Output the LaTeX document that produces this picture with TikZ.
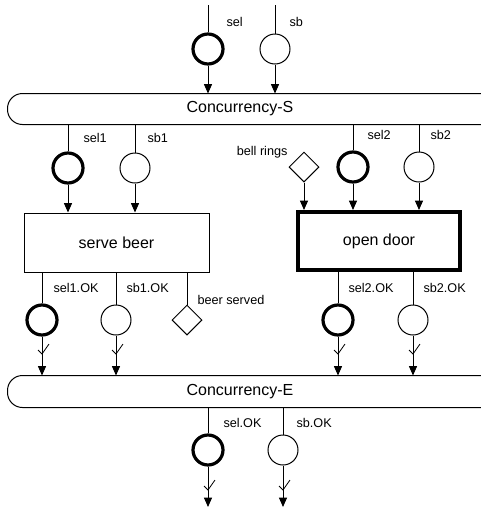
\documentclass[tikz,border=0pt]{standalone}
\usepackage{fontspec}
\setmainfont{Liberation Sans}
\usetikzlibrary{arrows.meta,calc,shapes.geometric}
\tikzset{
	place/.style={draw, circle, minimum size=22.5pt, inner sep=0pt, line width=0.75pt},
	bold place/.style={place, line width=2.4pt},
	event/.style={draw, diamond, minimum size=22.5pt, inner sep=0pt, line width=0.75pt},
	task/.style={draw, rectangle, minimum height=44.25pt, line width=0.75pt, font=\fontsize{12}{14}\selectfont},
	bar/.style={minimum height=22.5pt, minimum width=348pt, inner sep=0pt, font=\fontsize{12}{14}\selectfont},
	lbl/.style={anchor=west, inner sep=0pt, font=\fontsize{9.5}{11}\selectfont},
	arr/.style={-{Triangle[width=6pt,length=7pt]}, line width=0.75pt},
	okcheck/.pic={\draw[line width=0.6pt] (-4,-4) -- (0,0) -- (7,-10);}
}
\begin{document}
\begin{tikzpicture}[x=0.75pt, y=-0.75pt, line width=0.75pt]
		\path[use as bounding box, clip] (0,0) rectangle (481,508);
		% concurrency bars
		\node[bar] (concS) at (240,109) {Concurrency-S};
		\node[bar, minimum height=23.25pt] (concE) at (240,391.5) {Concurrency-E};
		\foreach \barname in {concS,concE}
			\draw[rounded corners=11.25pt] (\barname.north west) rectangle ($(\barname.south east)+(30,0)$);
		% inputs
		\node[bold place] (selIn) at (208,49) {};
		\node[place] (sbIn) at (275,49) {};
		\node[lbl] (selInLbl) at (226,22) {sel};
		\node[lbl] (sbInLbl) at (289,22) {sb};
		\coordinate (selTop) at (208,5);
		\coordinate (sbTop) at (275,5);
		\draw[arr] (selTop) -- (selIn) -- (selIn |- concS.north);
		\draw[arr] (sbTop) -- (sbIn) -- (sbIn |- concS.north);
		% branches
		\node[bold place] (selA) at (68,168) {};
		\node[place] (sbA) at (135,168) {};
		\node[event] (bell) at (304,167) {};
		\node[bold place] (selB) at (353,167) {};
		\node[place] (sbB) at (419,167) {};
		\node[lbl] (selALbl) at (83,138) {sel1};
		\node[lbl] (sbALbl) at (147,138) {sb1};
		\node[lbl, anchor=east] (bellLbl) at (288,152) {bell rings};
		\node[lbl] (selBLbl) at (367,135) {sel2};
		\node[lbl] (sbBLbl) at (430,135) {sb2};
		\node[task, minimum width=138.75pt] (serve) at (116.5,242.5) {serve beer};
		\node[task, minimum width=121.5pt, minimum height=43.5pt, line width=3pt] (door) at (379,241) {open door};
		\foreach \n in {selA,sbA}
			\draw[arr] (\n |- concS.south) -- (\n) -- (\n |- serve.north);
		\foreach \n in {selB,sbB}
			\draw[arr] (\n |- concS.south) -- (\n) -- (\n |- door.north);
		\draw[arr] (bell) -- (bell |- door.north);
		% results
		\node[bold place] (selAok) at (42,320) {};
		\node[place] (sbAok) at (116,320) {};
		\node[event] (served) at (187,320) {};
		\node[bold place] (selBok) at (338,320) {};
		\node[place] (sbBok) at (413,320) {};
		\node[lbl] (selAokLbl) at (53,288) {sel1.OK};
		\node[lbl] (sbAokLbl) at (126,288) {sb1.OK};
		\node[lbl] (servedLbl) at (197,300) {beer served};
		\node[lbl] (selBokLbl) at (348,288) {sel2.OK};
		\node[lbl] (sbBokLbl) at (423,288) {sb2.OK};
		\coordinate (okA) at (0,354);
		\foreach \n in {selAok,sbAok,served}
			\draw (\n |- serve.south) -- (\n);
		\foreach \n in {selBok,sbBok}
			\draw (\n |- door.south) -- (\n);
		\foreach \n in {selAok,sbAok,selBok,sbBok} {
			\draw[arr] (\n) -- (\n |- concE.north);
			\pic at (\n |- okA) {okcheck};
		}
		% outputs
		\node[bold place] (selOut) at (208,450) {};
		\node[place] (sbOut) at (283,450) {};
		\node[lbl] (selOutLbl) at (223,423) {sel.OK};
		\node[lbl] (sbOutLbl) at (296,423) {sb.OK};
		\coordinate (okB) at (0,490);
		\coordinate (outEnd) at (0,507);
		\foreach \n in {selOut,sbOut} {
			\draw[arr] (\n |- concE.south) -- (\n) -- (\n |- outEnd);
			\pic at (\n |- okB) {okcheck};
		}
\end{tikzpicture}
\end{document}
